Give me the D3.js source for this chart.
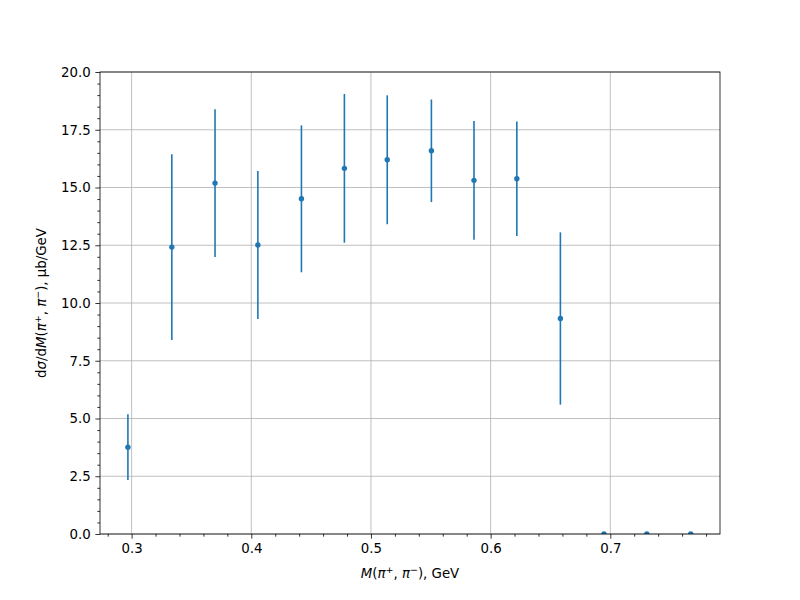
<!DOCTYPE html>
<html><head><meta charset="utf-8">
<script src="https://cdn.jsdelivr.net/npm/d3@7"></script>
<style>
body{margin:0;background:#fff;}
text{font-family:"DejaVu Sans",sans-serif;}
</style></head>
<body><svg id="c" width="800" height="600"></svg>
<script>
const massBins = [0.2969,0.3336,0.3697,0.4055,0.4419,0.4778,0.5136,0.5505,0.5861,0.6219,0.6583,0.6947,0.7305,0.7672];
const crossSection = [3.76,12.42,15.19,12.51,14.51,15.83,16.20,16.59,15.31,15.38,9.33,0,0,0];
const crossErr = [1.42,4.02,3.20,3.20,3.18,3.22,2.79,2.22,2.57,2.48,3.73,0,0,0];
const xTicks = [0.3,0.4,0.5,0.6,0.7];
const yTicks = [0,2.5,5,7.5,10,12.5,15,17.5,20];

const svg = d3.select("#c");
const L=100,R=720,T=72,B=534;
const x = d3.scaleLinear().domain([0.27358,0.79167]).range([L,R]);
const y = d3.scaleLinear().domain([0,20]).range([B,T]);
const color="#1f77b4";

svg.append("defs").append("clipPath").attr("id","clip")
  .append("rect").attr("x",L).attr("y",T).attr("width",R-L).attr("height",B-T);

// grid
const g = svg.append("g");
g.selectAll(".gx").data(xTicks).enter().append("line")
  .attr("x1",d=>x(d)).attr("x2",d=>x(d)).attr("y1",T).attr("y2",B)
  .attr("stroke","#b0b0b0").attr("stroke-width",0.8);
g.selectAll(".gy").data(yTicks).enter().append("line")
  .attr("y1",d=>y(d)).attr("y2",d=>y(d)).attr("x1",L).attr("x2",R)
  .attr("stroke","#b0b0b0").attr("stroke-width",0.8);

// axes
const fmtY = d3.format(".1f");
const xAxis = d3.axisBottom(x).tickValues(xTicks).tickFormat(d3.format(".1f")).tickSizeInner(4.67).tickSizeOuter(0).tickPadding(4.7);
const xMinor = d3.axisBottom(x).tickValues(d3.range(0.28,0.79,0.02).filter(v=>Math.abs(Math.round(v*10)-v*10)>1e-6)).tickFormat("").tickSizeInner(2.67).tickSizeOuter(0);
const yAxis = d3.axisLeft(y).tickValues(yTicks).tickFormat(fmtY).tickSizeInner(4.67).tickSizeOuter(0).tickPadding(4.7);
const yMinor = d3.axisLeft(y).tickValues(d3.range(0.5,20,0.5).filter(v=>Math.abs(v/2.5-Math.round(v/2.5))>1e-6)).tickFormat("").tickSizeInner(2.67).tickSizeOuter(0);

function style(sel){
  sel.select(".domain").remove();
  sel.selectAll("line").attr("stroke","#000").attr("stroke-width",0.8);
  sel.selectAll("text").attr("font-size","13.33px").attr("fill","#000").style("font-family","DejaVu Sans");
}
svg.append("g").attr("transform",`translate(0,${B})`).call(xAxis).call(style);
svg.append("g").attr("transform",`translate(0,${B})`).call(xMinor).call(style);
svg.append("g").attr("transform",`translate(${L},0)`).call(yAxis).call(style);
svg.append("g").attr("transform",`translate(${L},0)`).call(yMinor).call(style);

// data
const d = massBins.map((m,i)=>({m, v:crossSection[i], e:crossErr[i]}));
const pg = svg.append("g").attr("clip-path","url(#clip)");
pg.selectAll(".eb").data(d).enter().append("line")
  .attr("x1",p=>x(p.m)).attr("x2",p=>x(p.m))
  .attr("y1",p=>y(p.v-p.e)).attr("y2",p=>y(p.v+p.e))
  .attr("stroke",color).attr("stroke-width",1.6);
pg.selectAll(".pt").data(d).enter().append("circle")
  .attr("cx",p=>x(p.m)).attr("cy",p=>y(p.v)).attr("r",2.7).attr("fill",color);

// frame
svg.append("rect").attr("x",L).attr("y",T).attr("width",R-L).attr("height",B-T)
  .attr("fill","none").attr("stroke","#000").attr("stroke-width",0.8);

// x label
const xl = svg.append("text").attr("x",(L+R)/2).attr("y",578).attr("text-anchor","middle").attr("font-size","13.33px");
xl.append("tspan").attr("font-style","italic").text("M");
xl.append("tspan").text("(");
xl.append("tspan").attr("font-style","italic").text("π");
xl.append("tspan").attr("font-size","9.5px").attr("dy","-5").text("+");
xl.append("tspan").attr("dy","5").text(", ");
xl.append("tspan").attr("font-style","italic").text("π");
xl.append("tspan").attr("font-size","9.5px").attr("dy","-5").text("−");
xl.append("tspan").attr("dy","5").text("), GeV");

// y label
const yl = svg.append("text").attr("transform",`translate(46,${(T+B)/2}) rotate(-90)`).attr("text-anchor","middle").attr("font-size","13.33px");
yl.append("tspan").text("d");
yl.append("tspan").attr("font-style","italic").text("σ");
yl.append("tspan").text("/d");
yl.append("tspan").attr("font-style","italic").text("M");
yl.append("tspan").text("(");
yl.append("tspan").attr("font-style","italic").text("π");
yl.append("tspan").attr("font-size","9.5px").attr("dy","-5").text("+");
yl.append("tspan").attr("dy","5").text(", ");
yl.append("tspan").attr("font-style","italic").text("π");
yl.append("tspan").attr("font-size","9.5px").attr("dy","-5").text("−");
yl.append("tspan").attr("dy","5").text("), μb/GeV");
</script></body></html>
